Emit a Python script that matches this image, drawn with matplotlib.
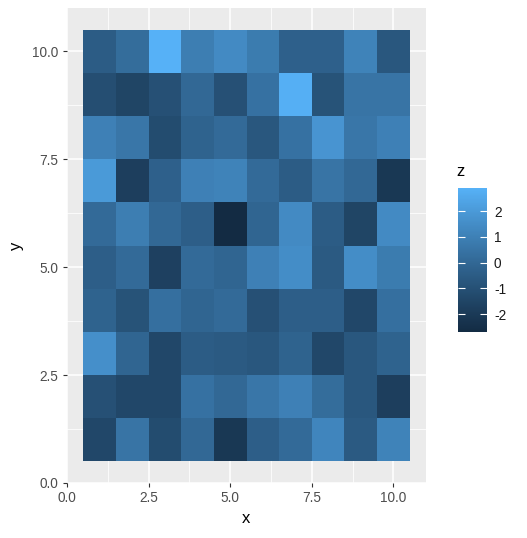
import numpy as np
import matplotlib
matplotlib.use("Agg")
import matplotlib.pyplot as plt
from matplotlib.colors import ListedColormap

plt.rcParams['font.family'] = ['Liberation Sans', 'DejaVu Sans']

x_vals = list(range(1, 11))
y_vals = list(range(1, 11))
# z values, rows from y=1 (bottom) to y=10 (top)
z_rows = [
    [-1.4, 0.5, -1.2, 0.0, -2.1, -0.4, 0.1, 1.2, -0.6, 1.1],   # y=1
    [-1.0, -1.4, -1.4, 0.4, 0.0, 0.6, 1.0, 0.2, -0.7, -1.8],   # y=2
    [1.6, -0.1, -1.4, -0.5, -0.6, -0.7, -0.2, -1.4, -0.7, -0.2],  # y=3
    [-0.2, -0.9, 0.3, -0.1, 0.1, -1.0, -0.4, -0.4, -1.4, 0.3],  # y=4
    [-0.4, 0.1, -1.7, 0.1, -0.1, 1.0, 1.5, -0.6, 1.5, 0.8],    # y=5
    [0.1, 0.9, 0.0, -0.4, -2.7, -0.1, 1.4, -0.5, -1.5, 1.4],   # y=6
    [2.0, -1.8, -0.3, 1.0, 1.1, 0.1, -0.5, 0.5, 0.0, -2.1],    # y=7
    [1.0, 0.6, -1.2, -0.2, 0.1, -0.7, 0.4, 1.8, 0.6, 1.0],     # y=8
    [-1.1, -1.5, -1.0, 0.0, -1.0, 0.4, 2.8, -0.9, 0.5, 0.5],   # y=9
    [-0.5, 0.2, 2.9, 0.9, 1.4, 0.8, -0.3, -0.3, 1.1, -0.7],    # y=10
]
x_ticks = [0.0, 2.5, 5.0, 7.5, 10.0]
y_ticks = [0.0, 2.5, 5.0, 7.5, 10.0]
cb_ticks = [-2, -1, 0, 1, 2]

# ---- ggplot-like Lab gradient ----
def hex2rgb(h):
    h = h.lstrip('#')
    return np.array([int(h[i:i+2], 16) / 255 for i in (0, 2, 4)])

def srgb2lin(c):
    return np.where(c <= 0.04045, c / 12.92, ((c + 0.055) / 1.055) ** 2.4)

def lin2srgb(c):
    c = np.clip(c, 0, 1)
    return np.where(c <= 0.0031308, 12.92 * c, 1.055 * c ** (1 / 2.4) - 0.055)

M = np.array([[0.4124, 0.3576, 0.1805], [0.2126, 0.7152, 0.0722], [0.0193, 0.1192, 0.9505]])
Minv = np.linalg.inv(M)
wp = np.array([0.95047, 1.0, 1.08883])

def f(t):
    return np.where(t > 216 / 24389, np.cbrt(t), (24389 / 27 * t + 16) / 116)

def finv(t):
    return np.where(t ** 3 > 216 / 24389, t ** 3, (116 * t - 16) / (24389 / 27))

def rgb2lab(c):
    xyz = M @ srgb2lin(c) / wp
    fx, fy, fz = f(xyz)
    return np.array([116 * fy - 16, 500 * (fx - fy), 200 * (fy - fz)])

def lab2rgb(lab):
    L, a, b = lab
    fy = (L + 16) / 116
    fx = fy + a / 500
    fz = fy - b / 200
    xyz = np.array([finv(fx), finv(fy), finv(fz)]) * wp
    return lin2srgb(Minv @ xyz)

lo = rgb2lab(hex2rgb('#132B43'))
hi = rgb2lab(hex2rgb('#56B1F7'))
cols = [lab2rgb(lo + (hi - lo) * t) for t in np.linspace(0, 1, 256)]
cmap = ListedColormap(cols)

Z = np.array(z_rows)

W, H = 527, 538
fig = plt.figure(figsize=(W / 100, H / 100), dpi=100)
ax = fig.add_axes([67 / W, 55 / H, 359 / W, 475 / H])
ax.set_facecolor('#EBEBEB')
for s in ax.spines.values():
    s.set_visible(False)

# grid
for v in [1.25, 3.75, 6.25, 8.75]:
    ax.axvline(v, color='white', lw=0.55, zorder=0)
    ax.axhline(v, color='white', lw=0.55, zorder=0)
for v in x_ticks:
    ax.axvline(v, color='white', lw=1.1, zorder=0)
for v in y_ticks:
    ax.axhline(v, color='white', lw=1.1, zorder=0)

mesh = ax.pcolormesh(x_vals, y_vals, Z, cmap=cmap, shading='nearest',
                     vmin=Z.min(), vmax=Z.max(), zorder=1)
ax.set_xlim(0, 11)
ax.set_ylim(0, 11)
ax.set_xticks(x_ticks)
ax.set_yticks(y_ticks)
ax.set_xticklabels([f"{t:.1f}" for t in x_ticks])
ax.set_yticklabels([f"{t:.1f}" for t in y_ticks])
ax.tick_params(colors='#333333', labelcolor='#4D4D4D', labelsize=9.8, length=3, width=0.8, pad=3)
ax.set_xlabel('x', fontsize=12, color='black', labelpad=4)
ax.set_ylabel('y', fontsize=12, color='black', labelpad=6)

cax = fig.add_axes([458 / W, (538 - 332) / H, 29 / W, 144 / H])
cb = fig.colorbar(mesh, cax=cax)
cb.outline.set_visible(False)
cb.set_ticks(cb_ticks)
cb.set_ticklabels([str(t) for t in cb_ticks])
cax.tick_params(axis='y', direction='in', color='white', length=5, width=0.8,
                left=True, right=True, labelsize=9.8, labelcolor='#1A1A1A', pad=5)
fig.text(456 / W, 1 - 172 / H, 'z', fontsize=12, ha='left', va='center')

fig.savefig('out.png', dpi=100)
